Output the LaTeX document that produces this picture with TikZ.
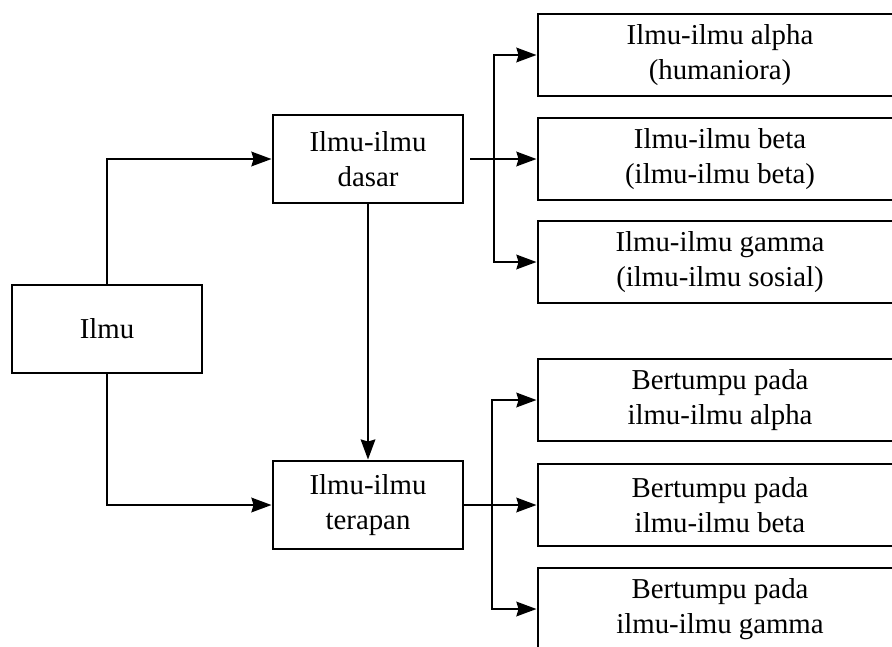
\documentclass[tikz,border=0pt]{standalone}
\usepackage{fontspec}
\setmainfont{Liberation Serif}
\usetikzlibrary{arrows.meta}

\begin{document}
\begin{tikzpicture}[>={Stealth[length=5mm,width=3.6mm,inset=0.5mm]},x=0.025cm,y=-0.025cm,
	line width=2pt,
	kotak/.style={draw,line width=2pt,minimum width=4.75cm,minimum height=2.2cm,inner sep=0pt,align=center,font=\fontsize{20.5}{24.5}\selectfont},
	cabang/.style={kotak,minimum width=9.1cm,minimum height=2.05cm}]
		\useasboundingbox (0,0) rectangle (892,646);
		
		\node[kotak] (ilmu) at (107,329) {Ilmu};
		\node[kotak] (dasar) at (368,159) {Ilmu-ilmu\\dasar};
		\node[kotak] (terapan) at (368,505) {Ilmu-ilmu\\terapan};
		
		\node[cabang] (alpha) at (720,55) {Ilmu-ilmu alpha\\(humaniora)};
		\node[cabang] (beta) at (720,159) {Ilmu-ilmu beta\\(ilmu-ilmu beta)};
		\node[cabang] (gamma) at (720,262) {Ilmu-ilmu gamma\\(ilmu-ilmu sosial)};
		\node[cabang] (talpha) at (720,400) {Bertumpu pada\\ilmu-ilmu alpha};
		\node[cabang] (tbeta) at (720,505) {Bertumpu pada\\ilmu-ilmu beta};
		\node[cabang] (tgamma) at (720,609) {Bertumpu pada\\ilmu-ilmu gamma};
		
		\coordinate (c1) at (494,159);
		\coordinate (c2) at (492,505);
		
		\draw[->] (ilmu.north) |- (dasar.west);
		\draw[->] (ilmu.south) |- (terapan.west);
		\draw[->] (dasar.south) -- (terapan.north);
		
		\draw[->,shorten <=4pt] (dasar.east) -- (beta.west);
		\draw[->] (c1) |- (alpha.west);
		\draw[->] (c1) |- (gamma.west);
		
		\draw[->] (terapan.east) -- (tbeta.west);
		\draw[->] (c2) |- (talpha.west);
		\draw[->] (c2) |- (tgamma.west);
	\end{tikzpicture}
\end{document}
